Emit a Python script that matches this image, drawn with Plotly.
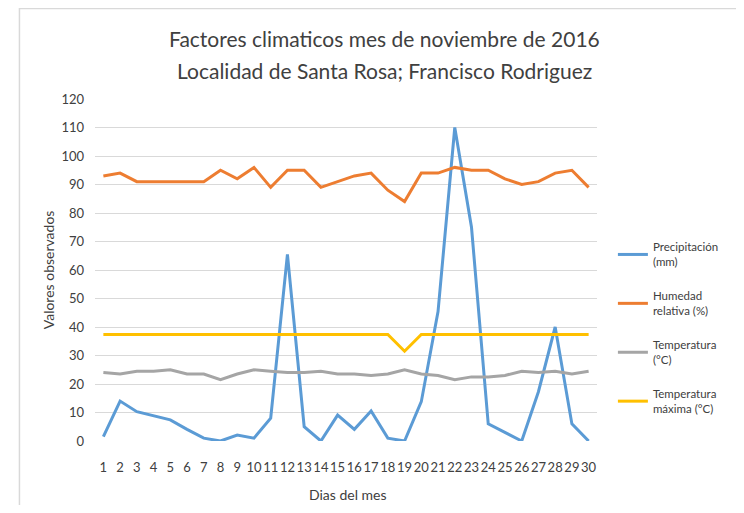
import plotly.graph_objects as go

dias = list(range(1, 31))
precipitacion = [1.5, 14, 10.3, 8.8, 7.4, 4.1, 1, 0, 2.1, 1, 8, 65.5, 5, 0, 9.1,
                 4.1, 10.5, 1, 0, 13.8, 45.4, 110, 75, 6, 3, 0, 17.3, 40, 6, 0]
humedad = [93, 94, 91, 91, 91, 91, 91, 95, 92, 96, 89, 95, 95, 89, 91,
           93, 94, 88, 84, 94, 94, 96, 95, 95, 92, 90, 91, 94, 95, 89]
temperatura = [24, 23.5, 24.5, 24.5, 25, 23.5, 23.5, 21.5, 23.5, 25, 24.5, 24, 24, 24.5, 23.5,
               23.5, 23, 23.5, 25, 23.5, 23, 21.5, 22.5, 22.5, 23, 24.5, 24, 24.5, 23.5, 24.5]
temp_max = [37.4] * 18 + [31.5] + [37.4] * 11

titulo = ["Factores climaticos mes de noviembre de 2016",
          "Localidad de Santa Rosa; Francisco Rodriguez"]
titulo_x = "Dias del mes"
titulo_y = "Valores observados"

series = [
    ("Precipitación<br>(mm)", precipitacion, "#5B9BD5"),
    ("Humedad<br>relativa (%)", humedad, "#ED7D31"),
    ("Temperatura<br>(°C)", temperatura, "#A5A5A5"),
    ("Temperatura<br>máxima (°C)", temp_max, "#FFC000"),
]

FONT = "Lato, Open Sans, sans-serif"
TXT = "#404040"
W, H = 728, 497
L, R, T, B = 87, 136, 91, 64
PH = H - T - B
PW = W - L - R


def px(xp):
    return (xp - L) / PW


def py(yp):
    return (H - B - yp) / PH


fig = go.Figure()
for i, (name, vals, col) in enumerate(series):
    fig.add_trace(go.Scatter(x=[str(d) for d in dias], y=vals, mode="lines", name=name,
                             legendgroup=f"g{i}",
                             line=dict(color=col, width=3)))

fig.update_layout(
    width=W, height=H,
    margin=dict(l=L, r=R, t=T, b=B),
    paper_bgcolor="white", plot_bgcolor="white",
    font=dict(family=FONT, color=TXT),
    legend=dict(x=px(608), xanchor="left", y=py(225), yanchor="top",
                font=dict(size=11.5, color=TXT), tracegroupgap=16, itemwidth=30),
    showlegend=True,
)
for txt, ypx in zip(titulo, [30, 62]):
    fig.add_annotation(text=txt, xref="paper", yref="paper", x=px(378), y=py(ypx),
                       xanchor="center", yanchor="middle", showarrow=False,
                       font=dict(size=21, color=TXT, family=FONT))
fig.add_annotation(text=titulo_x, xref="paper", yref="paper", x=px(342), y=py(486),
                   xanchor="center", yanchor="middle", showarrow=False,
                   font=dict(size=14, color=TXT, family=FONT))
fig.add_annotation(text=titulo_y, xref="paper", yref="paper", x=px(40), y=py(262),
                   xanchor="center", yanchor="middle", showarrow=False, textangle=-90,
                   font=dict(size=14, color=TXT, family=FONT))

fig.update_xaxes(type="category", range=[-0.5, 29.5], showgrid=False, showline=False, ticks="",
                 tickangle=0, automargin=False, ticklabelstandoff=17,
                 tickfont=dict(size=13, color=TXT))
fig.update_yaxes(range=[0, 120], dtick=10, showgrid=True, gridcolor="#D9D9D9", gridwidth=1,
                 zeroline=False, showline=False, ticks="", automargin=False, ticklabelstandoff=10,
                 tickfont=dict(size=13, color=TXT))
fig.add_shape(type="rect", xref="paper", yref="paper",
              x0=px(11), x1=1.6, y0=-0.6, y1=py(0.5),
              line=dict(color="#D9D9D9", width=1.5), layer="below")
fig.write_html("out.html")
